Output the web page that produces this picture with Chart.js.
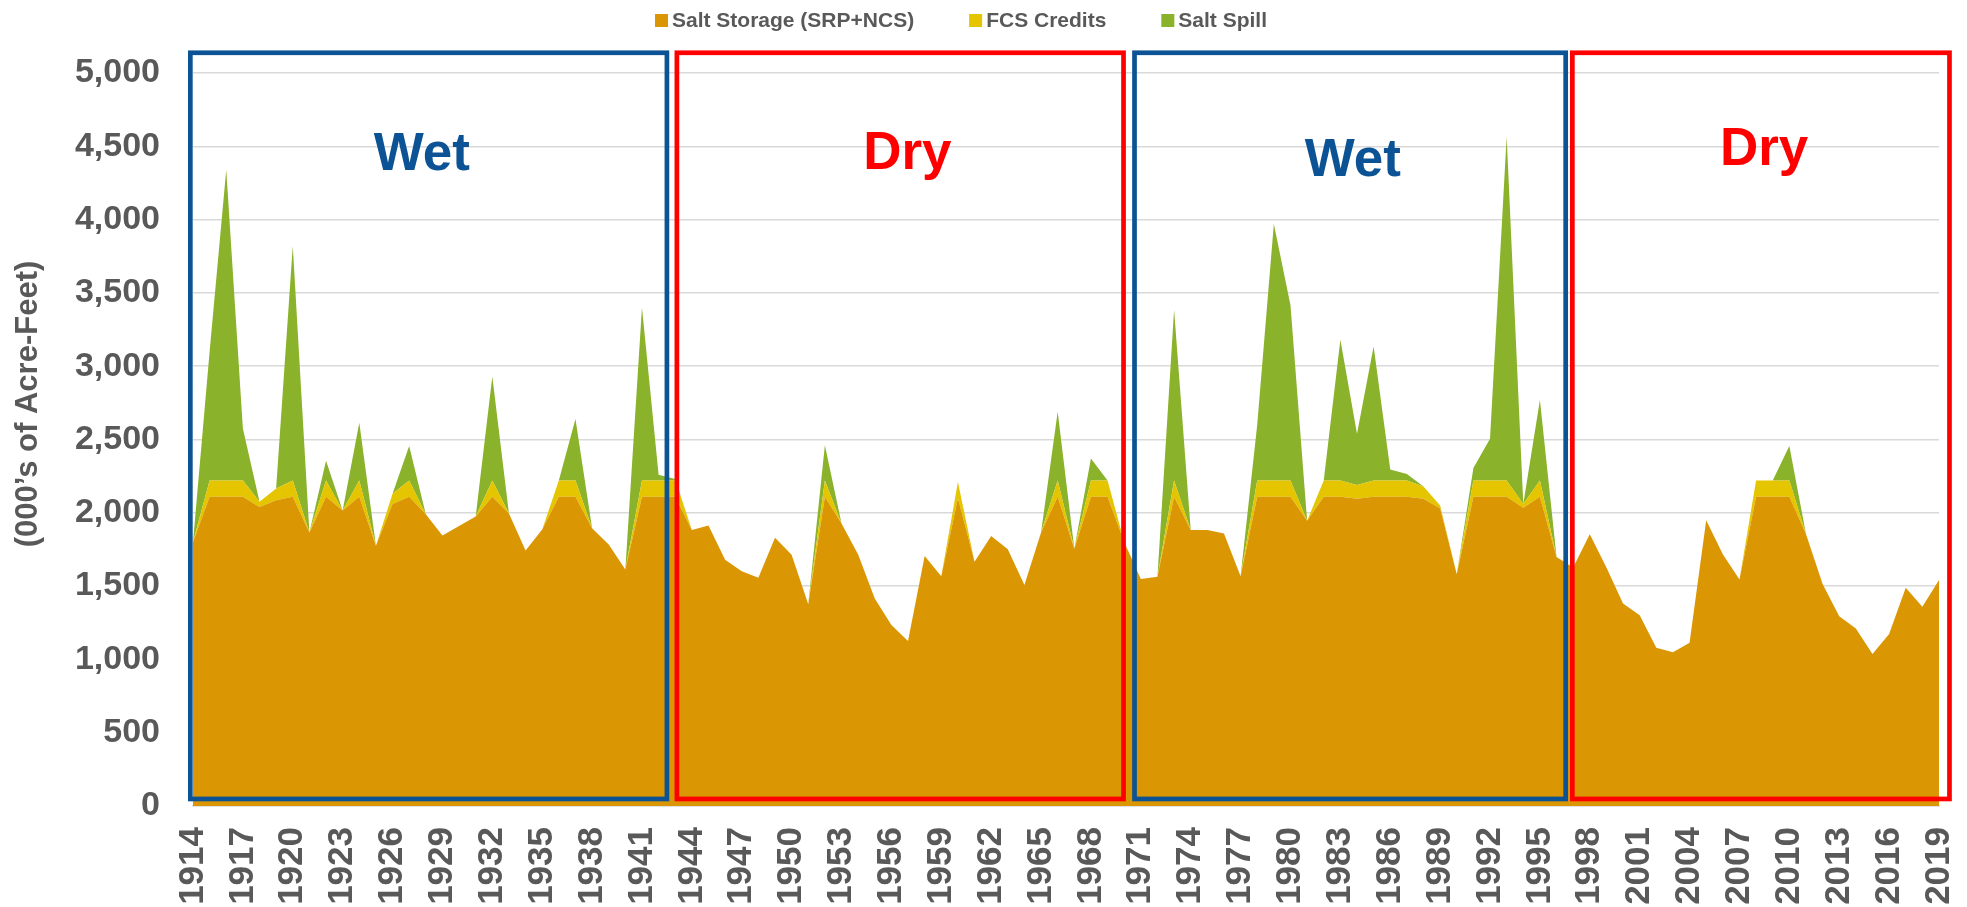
<!DOCTYPE html>
<html>
<head>
<meta charset="utf-8">
<script src="https://cdn.jsdelivr.net/npm/chart.js@4.4.1/dist/chart.umd.min.js"></script>
<style>
html,body{margin:0;padding:0;background:#fff;overflow:hidden}
#wrap{width:1967px;height:907px;position:relative}
</style>
</head>
<body>
<div id="wrap"><canvas id="c" width="1967" height="907"></canvas></div>
<script>
// ---- Data (000's of acre-feet) ----
const years = [
 1914,1915,1916,1917,1918,1919,1920,1921,1922,1923,
 1924,1925,1926,1927,1928,1929,1930,1931,1932,1933,
 1934,1935,1936,1937,1938,1939,1940,1941,1942,1943,
 1944,1945,1946,1947,1948,1949,1950,1951,1952,1953,
 1954,1955,1956,1957,1958,1959,1960,1961,1962,1963,
 1964,1965,1966,1967,1968,1969,1970,1971,1972,1973,
 1974,1975,1976,1977,1978,1979,1980,1981,1982,1983,
 1984,1985,1986,1987,1988,1989,1990,1991,1992,1993,
 1994,1995,1996,1997,1998,1999,2000,2001,2002,2003,
 2004,2005,2006,2007,2008,2009,2010,2011,2012,2013,
 2014,2015,2016,2017,2018,2019
];

const saltStorage = [
 1800,2110,2110,2110,2040,2085,2110,1865,2110,2015,
 2110,1775,2060,2110,1990,1845,1910,1975,2110,1995,
 1742,1886,2110,2110,1895,1784,1614,2110,2110,2110,
 1882,1914,1680,1602,1557,1830,1714,1377,2110,1927,
 1716,1416,1234,1125,1705,1568,2100,1666,1841,1752,
 1507,1865,2110,1754,2110,2110,1800,1548,1564,2110,
 1882,1882,1859,1568,2110,2110,2110,1945,2110,2110,
 2095,2110,2110,2110,2095,2030,1580,2110,2110,2110,
 2035,2110,1698,1627,1854,1627,1382,1302,1080,1048,
 1114,1950,1718,1545,2110,2110,2110,1855,1514,1295,
 1211,1036,1173,1489,1359,1541
];

const fcsCredits = [
 0,110,110,110,35,80,110,0,110,0,
 110,0,70,110,0,0,0,0,110,0,
 0,0,110,110,0,0,0,110,110,110,
 0,0,0,0,0,0,0,0,110,0,
 0,0,0,0,0,0,110,0,0,0,
 0,0,110,0,110,110,0,0,0,110,
 0,0,0,0,110,110,110,0,110,110,
 95,110,110,110,85,20,0,110,110,110,
 25,110,0,0,0,0,0,0,0,0,
 0,0,0,0,110,110,110,0,0,0,
 0,0,0,0,0,0
];

const saltSpill = [
 0,880,2120,355,0,0,1600,0,135,0,
 395,0,0,235,0,0,0,0,710,0,
 0,0,0,420,0,0,0,1180,40,10,
 0,0,0,0,0,0,0,0,240,0,
 0,0,0,0,0,0,0,0,0,0,
 0,0,470,0,150,0,0,0,0,1165,
 0,0,0,0,380,1750,1195,0,0,960,
 350,915,75,45,0,0,0,85,285,2345,
 0,550,0,0,0,0,0,0,0,0,
 0,0,0,0,0,0,235,0,0,0,
 0,0,0,0,0,0
];

const tickYears = [
 1914,1917,1920,1923,1926,1929,1932,1935,1938,1941,1944,1947,
 1950,1953,1956,1959,1962,1965,1968,1971,1974,1977,1980,1983,
 1986,1989,1992,1995,1998,2001,2004,2007,2010,2013,2016,2019
];

const seriesNames = ['Salt Storage (SRP+NCS)', 'FCS Credits', 'Salt Spill'];

// Wet / Dry period annotations (fractional year bounds)
const periods = [
  { label: 'Wet', from: 1913.84, to: 1942.50, textX: 1927.76, textBase: 4336, kind: 'wet' },
  { label: 'Dry', from: 1943.10, to: 1969.96, textX: 1956.96, textBase: 4348, kind: 'dry' },
  { label: 'Wet', from: 1970.62, to: 1996.55, textX: 1983.75, textBase: 4298, kind: 'wet' },
  { label: 'Dry', from: 1996.95, to: 2019.63, textX: 2008.48, textBase: 4371, kind: 'dry' }
];

// ---- Styles ----
const ORANGE = '#DB9604';
const YELLOW = '#E4C500';
const GREEN  = '#8AB22B';
const BLUE   = '#0B5394';
const RED    = '#FF0000';
const GRAY   = '#595959';
const FONT   = "'Liberation Sans', Arial, Helvetica, sans-serif";

const overlay = {
  id: 'overlay',
  afterDraw(chart) {
    const ctx = chart.ctx;
    const xs = chart.scales.x, ys = chart.scales.y;
    const x0 = xs.getPixelForValue(0);
    const step = xs.getPixelForValue(1) - x0;
    const xp = (yr) => x0 + (yr - years[0]) * step;

    ctx.save();
    // period boxes
    const yTop = ys.getPixelForValue(5138);
    const yBot = ys.getPixelForValue(48);
    periods.forEach(p => {
      const col = p.kind === 'wet' ? BLUE : RED;
      ctx.strokeStyle = col;
      ctx.lineWidth = 4.7;
      ctx.lineJoin = 'miter';
      const a = xp(p.from), b = xp(p.to);
      ctx.strokeRect(a, yTop, b - a, yBot - yTop);
      ctx.fillStyle = col;
      ctx.font = 'bold 53px ' + FONT;
      ctx.textAlign = 'center';
      ctx.textBaseline = 'alphabetic';
      ctx.fillText(p.label, xp(p.textX), ys.getPixelForValue(p.textBase));
    });

    // y-axis title
    ctx.save();
    ctx.translate(28, 404);
    ctx.rotate(-Math.PI / 2);
    ctx.fillStyle = GRAY;
    ctx.font = 'bold 31px ' + FONT;
    ctx.textAlign = 'center';
    ctx.textBaseline = 'middle';
    ctx.fillText("(000\u2019s of Acre-Feet)", 0, 0);
    ctx.restore();

    // legend
    ctx.font = 'bold 21px ' + FONT;
    ctx.textBaseline = 'middle';
    ctx.textAlign = 'left';
    const box = 13, gapText = 4, gapItem = 55;
    let lx = 655;
    const ly = 20.5;
    chart.data.datasets.forEach((d) => {
      const w = ctx.measureText(d.label).width;
      ctx.fillStyle = d.backgroundColor;
      ctx.fillRect(lx, ly - box / 2, box, box);
      ctx.fillStyle = GRAY;
      ctx.fillText(d.label, lx + box + gapText, ly + 1);
      lx += box + gapText + w + gapItem;
    });
    ctx.restore();
  }
};

const ds = (label, data, color, fill) => ({
  label, data, fill,
  backgroundColor: color,
  borderColor: 'rgba(0,0,0,0)',
  borderWidth: 0,
  pointRadius: 0,
  pointHoverRadius: 0,
  tension: 0
});

new Chart(document.getElementById('c').getContext('2d'), {
  type: 'line',
  data: {
    labels: years.map(String),
    datasets: [
      ds(seriesNames[0], saltStorage, ORANGE, 'origin'),
      ds(seriesNames[1], fcsCredits, YELLOW, '-1'),
      ds(seriesNames[2], saltSpill, GREEN, '-1')
    ]
  },
  options: {
    responsive: false,
    animation: false,
    devicePixelRatio: 1,
    layout: { padding: { top: 73, right: 28, left: 0, bottom: 0 } },
    plugins: { legend: { display: false }, tooltip: { enabled: false } },
    scales: {
      x: {
        offset: false,
        grid: { display: false, drawTicks: false },
        border: { display: true, color: '#D9D9D9', width: 1.5 },
        ticks: {
          autoSkip: false, maxRotation: 90, minRotation: 90, padding: 21,
          color: GRAY, font: { family: FONT, size: 35, weight: 'bold' },
          callback: (v, i) => tickYears.includes(years[i]) ? String(years[i]) : ''
        },
        afterFit: (s) => { s.height = 101; s.paddingLeft = 0; s.paddingRight = 0; }
      },
      y: {
        stacked: true, min: 0, max: 5000,
        grid: { color: '#D9D9D9', lineWidth: 1.5, drawTicks: false },
        border: { display: false },
        ticks: {
          stepSize: 500, padding: 33, color: GRAY,
          font: { family: FONT, size: 34, weight: 'bold' },
          callback: (v) => Number(v).toLocaleString('en-US')
        },
        afterFit: (s) => { s.width = 193; }
      }
    }
  },
  plugins: [overlay]
});
</script>
</body>
</html>
